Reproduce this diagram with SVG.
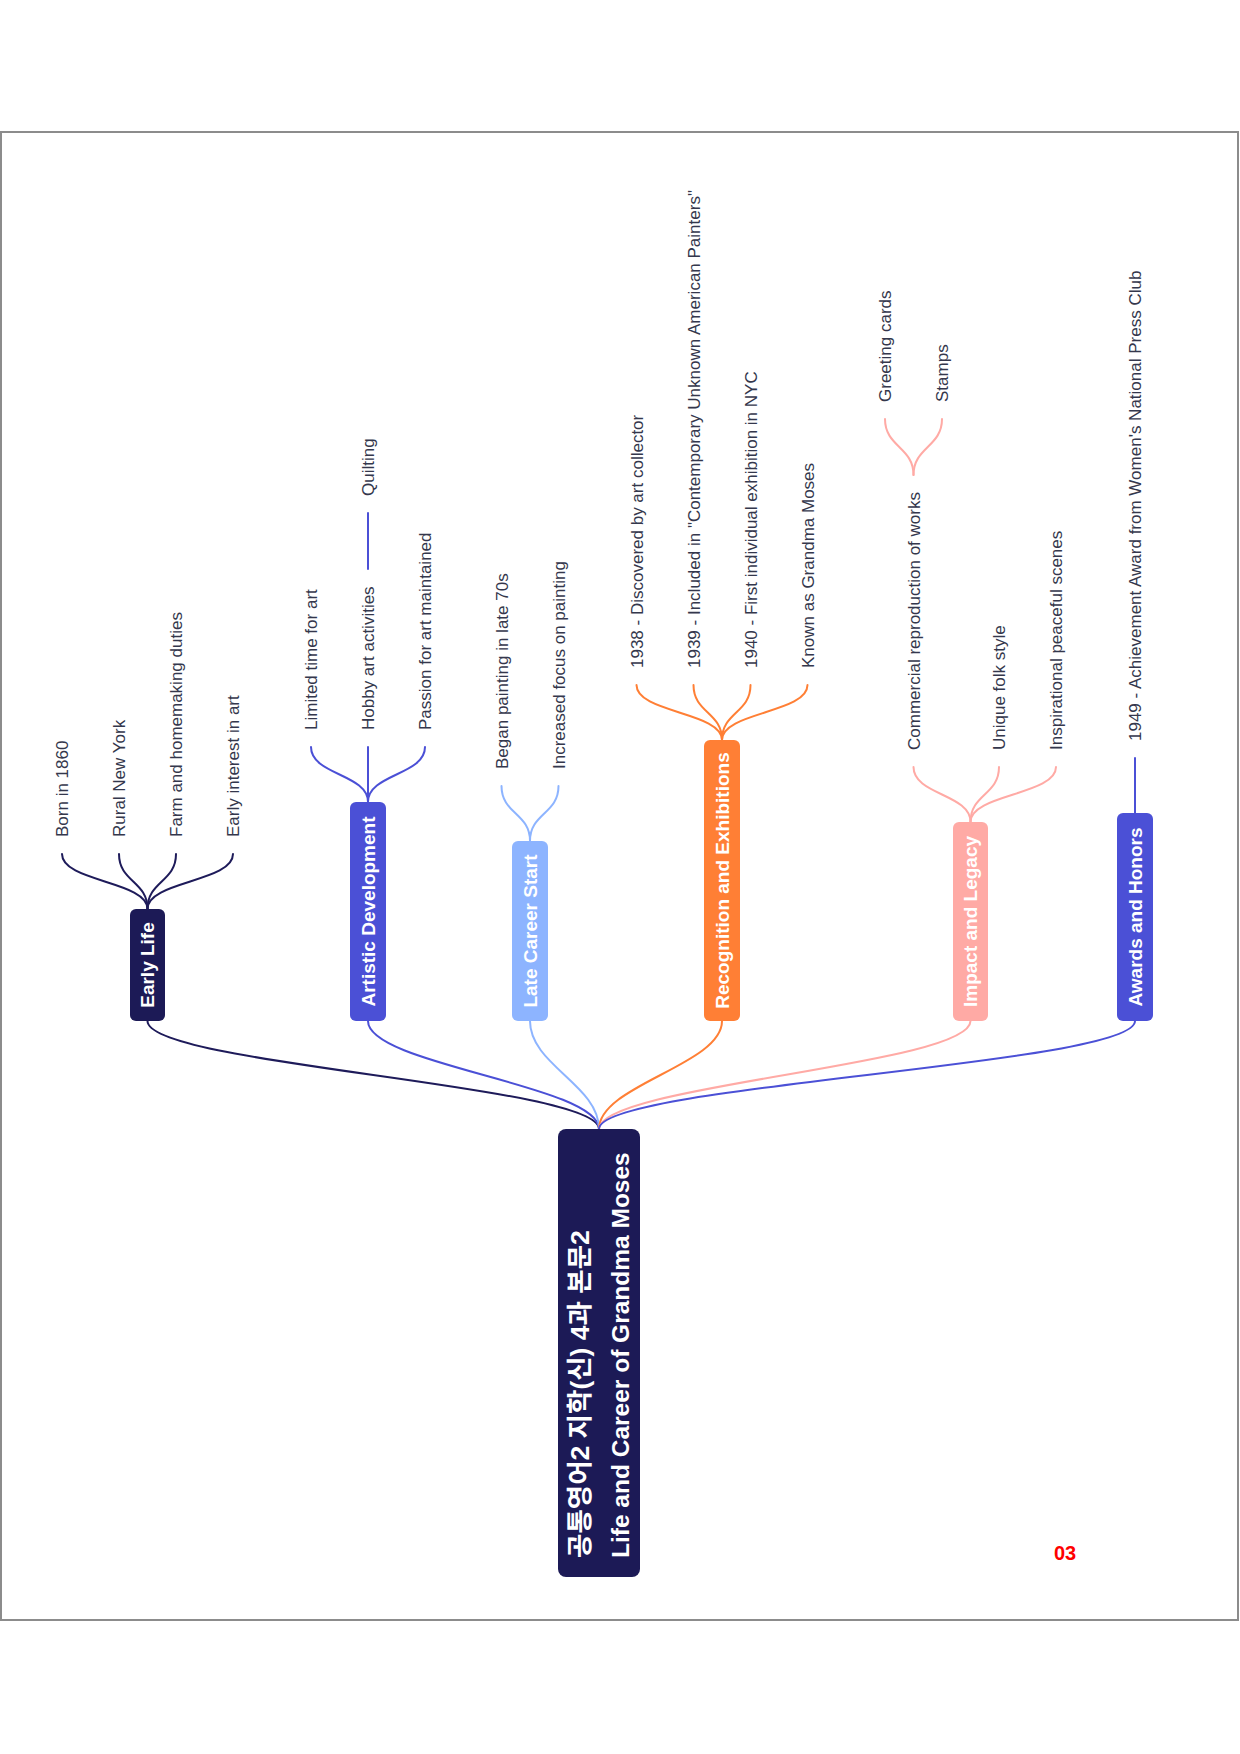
<svg xmlns="http://www.w3.org/2000/svg" width="1240" height="1754" viewBox="0 0 1240 1754">
<style>
.leaf{font-family:"Liberation Sans","Noto Sans",sans-serif;font-size:17px;fill:#34374c}
.bt{font-family:"Liberation Sans","Noto Sans",sans-serif;font-size:19px;font-weight:bold;fill:#ffffff;text-anchor:middle}
.rt{font-family:"Liberation Sans","Noto Sans CJK KR",sans-serif;font-weight:bold;fill:#ffffff}
.c{fill:none;stroke-width:2;stroke-linecap:round}
.navy{stroke:#1e1b5a}.blue{stroke:#4b50d6}.lblue{stroke:#8db4ff}.orange{stroke:#ff7f35}.pink{stroke:#ffaaa5}
</style>
<rect x="1" y="132" width="1237" height="1488" fill="#ffffff" stroke="#8c8c8c" stroke-width="2"/>
<g id="connectors">
<path class="c navy" d="M147.5,1021 C147.5,1065 599,1085 599,1129"/>
<path class="c blue" d="M368,1021 C368,1065 599,1085 599,1129"/>
<path class="c lblue" d="M530,1021 C530,1065 599,1085 599,1129"/>
<path class="c orange" d="M722,1021 C722,1065 599,1085 599,1129"/>
<path class="c pink" d="M970.5,1021 C970.5,1065 599,1085 599,1129"/>
<path class="c blue" d="M1135,1021 C1135,1065 599,1085 599,1129"/>
<path class="c navy" d="M147.5,909 C147.5,881 62,882 62,854"/>
<path class="c navy" d="M147.5,909 C147.5,881 119,882 119,854"/>
<path class="c navy" d="M147.5,909 C147.5,881 176,882 176,854"/>
<path class="c navy" d="M147.5,909 C147.5,881 233,882 233,854"/>
<path class="c blue" d="M368,802 C368,774 311,775 311,747"/>
<path class="c blue" d="M368,802 L368,747"/>
<path class="c blue" d="M368,802 C368,774 425,775 425,747"/>
<path class="c blue" d="M368,569 L368,513"/>
<path class="c lblue" d="M530,841 C530,813 501.5,814 501.5,786"/>
<path class="c lblue" d="M530,841 C530,813 558.5,814 558.5,786"/>
<path class="c orange" d="M722,740 C722,712 636.5,713 636.5,685"/>
<path class="c orange" d="M722,740 C722,712 693.5,713 693.5,685"/>
<path class="c orange" d="M722,740 C722,712 750.5,713 750.5,685"/>
<path class="c orange" d="M722,740 C722,712 807.5,713 807.5,685"/>
<path class="c pink" d="M970.5,822 C970.5,794 913.5,795 913.5,767"/>
<path class="c pink" d="M970.5,822 C970.5,794 999,795 999,767"/>
<path class="c pink" d="M970.5,822 C970.5,794 1056,795 1056,767"/>
<path class="c pink" d="M913.5,475 C913.5,447 885,447 885,419"/>
<path class="c pink" d="M913.5,475 C913.5,447 942,447 942,419"/>
<path class="c blue" d="M1135,813 L1135,758"/>
</g>
<g id="root">
<rect x="558" y="1129" width="82" height="448" rx="8" fill="#1c1a56"/>
<text class="rt" font-size="26.5" x="589" y="1558" transform="rotate(-90 589 1558)">공통영어2 지학(신) 4과 본문2</text>
<text class="rt" font-size="24.5" x="629" y="1558" transform="rotate(-90 629 1558)">Life and Career of Grandma Moses</text>
</g>
<g id="early-life">
<rect x="130" y="909" width="35" height="112" rx="6" fill="#1c1a56"/>
<text class="bt" x="154.3" y="965" transform="rotate(-90 154.3 965)">Early Life</text>
</g>
<g id="early-leaves">
<text class="leaf" x="68" y="837" transform="rotate(-90 68 837)">Born in 1860</text>
<text class="leaf" x="125" y="837" transform="rotate(-90 125 837)">Rural New York</text>
<text class="leaf" x="182" y="837" transform="rotate(-90 182 837)">Farm and homemaking duties</text>
<text class="leaf" x="239" y="837" transform="rotate(-90 239 837)">Early interest in art</text>
</g>
<g id="artistic-development">
<rect x="350" y="802" width="36" height="219" rx="6" fill="#4b50d6"/>
<text class="bt" x="374.8" y="911.5" transform="rotate(-90 374.8 911.5)">Artistic Development</text>
</g>
<g id="artistic-leaves">
<text class="leaf" x="317" y="730" transform="rotate(-90 317 730)">Limited time for art</text>
<text class="leaf" x="374" y="730" transform="rotate(-90 374 730)">Hobby art activities</text>
<text class="leaf" x="431" y="730" transform="rotate(-90 431 730)">Passion for art maintained</text>
<text class="leaf" x="374" y="496" transform="rotate(-90 374 496)">Quilting</text>
</g>
<g id="late-career-start">
<rect x="512" y="841" width="36" height="180" rx="6" fill="#8db4ff"/>
<text class="bt" x="536.8" y="931" transform="rotate(-90 536.8 931)">Late Career Start</text>
</g>
<g id="late-leaves">
<text class="leaf" x="507.5" y="769" transform="rotate(-90 507.5 769)">Began painting in late 70s</text>
<text class="leaf" x="564.5" y="769" transform="rotate(-90 564.5 769)">Increased focus on painting</text>
</g>
<g id="recognition">
<rect x="704" y="740" width="36" height="281" rx="6" fill="#ff7f35"/>
<text class="bt" x="728.8" y="880.5" transform="rotate(-90 728.8 880.5)">Recognition and Exhibitions</text>
</g>
<g id="recognition-leaves">
<text class="leaf" x="642.5" y="668" transform="rotate(-90 642.5 668)">1938 - Discovered by art collector</text>
<text class="leaf" x="699.5" y="668" transform="rotate(-90 699.5 668)">1939 - Included in "Contemporary Unknown American Painters"</text>
<text class="leaf" x="756.5" y="668" transform="rotate(-90 756.5 668)">1940 - First individual exhibition in NYC</text>
<text class="leaf" x="813.5" y="668" transform="rotate(-90 813.5 668)">Known as Grandma Moses</text>
</g>
<g id="impact-legacy">
<rect x="953" y="822" width="35" height="199" rx="6" fill="#ffaaa5"/>
<text class="bt" x="977.3" y="921.5" transform="rotate(-90 977.3 921.5)">Impact and Legacy</text>
</g>
<g id="impact-leaves">
<text class="leaf" x="919.5" y="750" transform="rotate(-90 919.5 750)">Commercial reproduction of works</text>
<text class="leaf" x="1005" y="750" transform="rotate(-90 1005 750)">Unique folk style</text>
<text class="leaf" x="1062" y="750" transform="rotate(-90 1062 750)">Inspirational peaceful scenes</text>
<text class="leaf" x="891" y="402" transform="rotate(-90 891 402)">Greeting cards</text>
<text class="leaf" x="948" y="402" transform="rotate(-90 948 402)">Stamps</text>
</g>
<g id="awards-honors">
<rect x="1117" y="813" width="36" height="208" rx="6" fill="#4b50d6"/>
<text class="bt" x="1141.8" y="917" transform="rotate(-90 1141.8 917)">Awards and Honors</text>
</g>
<g id="awards-leaves">
<text class="leaf" x="1141" y="741" transform="rotate(-90 1141 741)">1949 - Achievement Award from Women's National Press Club</text>
</g>
<text x="1054" y="1560" font-family="Liberation Sans, sans-serif" font-size="20" font-weight="bold" fill="#ff0000">03</text>
</svg>
